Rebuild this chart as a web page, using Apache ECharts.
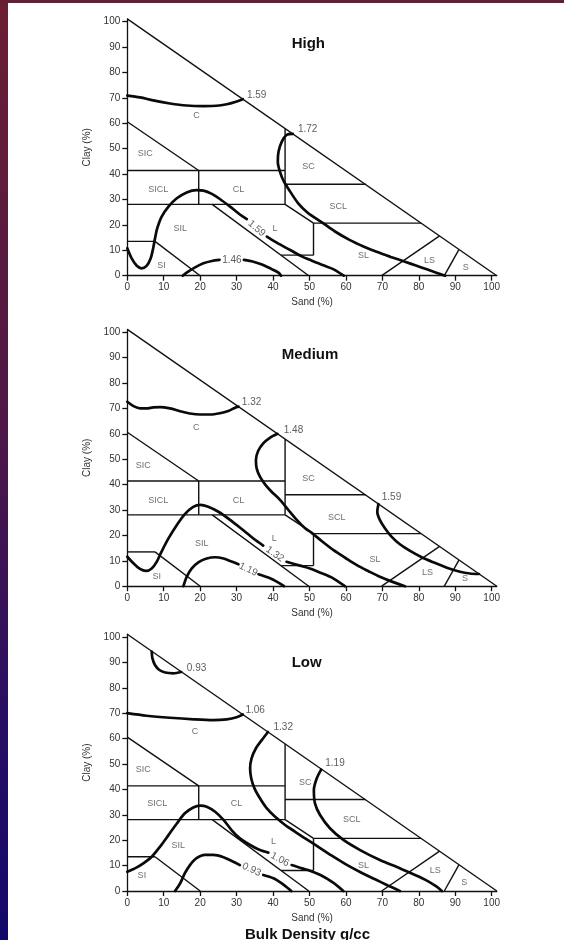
<!DOCTYPE html>
<html>
<head>
<meta charset="utf-8">
<script src="https://cdn.jsdelivr.net/npm/echarts@6/dist/echarts.min.js"></script>
<style>
html,body{margin:0;padding:0;background:#fff;}
#wrap{position:relative;width:564px;height:940px;overflow:hidden;background:#fff;}
#leftband{position:absolute;left:0;top:0;width:8px;height:940px;background:linear-gradient(to bottom,#6b1f33 0%,#4e1747 45%,#2a0f62 75%,#13086a 100%);}
#topband{position:absolute;left:0;top:0;width:564px;height:3px;background:#661d35;}
#chart{position:absolute;left:0;top:0;width:564px;height:940px;}
</style>
</head>
<body>
<div id="wrap"><div id="leftband"></div><div id="topband"></div><div id="chart"></div></div>
<script>
// ---------- axes ----------
const sandTicks = [0,10,20,30,40,50,60,70,80,90,100];
const clayTicks = [0,10,20,30,40,50,60,70,80,90,100];
const sandMax = 101.4;   // hypotenuse meets sand axis
const clayMax = 101.1;   // hypotenuse meets clay axis

// ---------- texture-class boundaries [sand, clay] ----------
const bndHyp    = [[0,101.1],[101.4,0]];
const bndSilt40 = [[0,60.6],[19.6,41.4]];
const bndClay40 = [[0,41.4],[43.3,41.4]];
const bndSand20 = [[19.6,41.4],[19.6,28.1]];
const bndClay27 = [[0,28.1],[43.3,28.1]];
const bndSand45 = [[43.3,28.1],[43.3,57.9]];
const bndClay35 = [[43.3,36],[65.4,36]];
const bndLSCL   = [[43.3,28.1],[51.1,20.7]];
const bndClay20 = [[51.1,20.7],[80.6,20.7]];
const bndSand52 = [[51.1,20.7],[51.1,8.1]];
const bndClay7  = [[42.2,8.1],[51.1,8.1]];
const bndSilt50 = [[23.3,28.1],[49.8,0]];
const bndClay12 = [[0,13.5],[7.6,13.5]];
const bndSilt80 = [[7.6,13.5],[20,0]];
const bndLSSL   = [[69.8,0],[85.7,15.7]];
const bndSLS    = [[87,0],[91,10.3]];

// ---------- High panel isolines ----------
const hi159top = [[0,70.9],[3.5,70.2],[7.1,69],[11.7,67.8],[16.3,67],[20.9,66.8],[24.5,66.9],[27.3,67.5],[29.6,68.4],[31.7,69.5]];
const hi172 = [[45.4,55.8],[43.7,55.4],[42.4,52.8],[41.5,48.8],[41.3,44.9],[41.9,40.9],[43,37],[44.7,33.1],[46.9,28.5],[49.5,24.8],[53.4,21],[57,17.4],[61.1,14],[64.8,11.5],[68.4,9.4],[72.3,7.4],[76.2,5.5],[79.2,4],[82.2,2.5],[84.8,1.2],[87.2,0]];
const hi159midA = [[0,10.8],[1.2,6.8],[2.6,3.9],[3.9,2.9],[5.3,3.9],[6.4,6.8],[7.1,10.8],[7.6,14.7],[8.2,18.6],[9.4,23.2],[11.3,27.2],[13.5,30.4],[16.3,32.8],[19,33.7],[20.9,33.5],[23.2,32.2],[25.4,30.2],[28.2,27.2],[30.9,24.1],[32.8,22.3]];
const hi159midB = [[38.3,15.4],[41,13],[44.7,10.1],[47.9,7.6],[50.5,6],[54,4],[56.5,2.6],[59.4,0]];
const hi146A = [[15.2,0],[16.7,1.6],[18.6,3.3],[20.9,4.9],[23.2,5.8],[25.3,6.2]];
const hi146B = [[32,6.2],[34.6,5.5],[37.3,4.2],[39.6,2.6],[41.5,1.2],[42.2,0]];
const hiIsoText = ['1.59','1.72','1.59','1.46'];
const hiIsoPos  = [[35.5,70.9],[49.5,57.6],[35.5,18.6],[28.7,6.2]];
const hiIsoRot  = [0,0,-40,0];
const hiClassPos = [[19,63],[4.9,48.2],[8.5,34.1],[30.5,34.1],[14.5,18.6],[9.4,3.9],[40.5,18.6],[49.7,42.9],[57.9,27.4],[64.8,7.9],[82.9,5.8],[92.9,3.3]];

// ---------- Medium panel isolines ----------
const me132top = [[0,72.6],[1.7,70.9],[3.5,70],[5.3,70],[7.1,70.4],[9,70.5],[11.7,70],[14.5,68.9],[17.2,68],[20,67.6],[22.7,67.6],[25.4,68.1],[27.7,69],[29.6,70.3],[30.5,70.7]];
const me148 = [[41.2,60],[39.2,58.5],[37.3,56.2],[35.9,53.2],[35.3,49.7],[35.5,46.4],[36.4,43.1],[37.8,40.1],[39.6,37.2],[41.9,34],[44.2,30],[46.5,26.1],[48.8,22.8],[50.6,21],[53.5,17.6],[56.5,14.3],[59.8,11.2],[63,8.3],[66.2,5.9],[69.3,3.7],[72.8,1.7],[76.2,0]];
const me159 = [[68.9,32.3],[68.6,29.3],[69.3,26.1],[70.7,22.8],[72.5,19.5],[74.8,16.5],[77.6,13.9],[80.8,11.4],[84,9.4],[87.7,7.3],[91.3,5.7],[94,5],[96.5,4.8]];
const me132midA = [[0,11.6],[1.7,9],[3.5,6.8],[5.1,6],[6.7,7],[8.1,9.7],[9.4,13.6],[11.3,18.8],[13.6,24.1],[15.8,28.4],[18.1,31.2],[20,32],[22.2,31.3],[25,29.3],[28.2,26.1],[31.4,22.5],[34.6,18.8],[37.3,16]];
const me132midB = [[43.7,9.6],[47.4,8.1],[50.1,7],[53,5.3],[56.5,3.1],[59.7,0]];
const me119A = [[15.4,0],[16.3,3.7],[17.7,7],[19.5,9.4],[21.8,10.9],[24.1,11.4],[26.4,10.9],[28.6,9.7],[30.5,8.6]];
const me119B = [[36,4.7],[38.7,3.4],[41,1.8],[43,0]];
const meIsoText = ['1.32','1.48','1.59','1.32','1.19'];
const meIsoPos  = [[34.1,72.3],[45.6,61.5],[72.5,35],[40.5,12.6],[33.2,6.6]];
const meIsoRot  = [0,0,0,-35,-26];
const meClassPos = [[18.9,62.4],[4.4,47.7],[8.5,33.7],[30.5,33.7],[20.4,16.9],[8.1,3.8],[40.3,18.8],[49.7,42.2],[57.5,27.1],[68,10.6],[82.4,5.4],[92.7,3.1]];

// ---------- Low panel isolines ----------
const lo093top = [[6.7,94.3],[6.9,91.6],[7.6,89],[8.8,87],[10.4,86],[12.6,85.7],[14.8,86.2]];
const lo106top = [[0,70],[5.3,69],[11.7,68.2],[18.2,67.6],[23.6,67.3],[27.3,67.6],[30,68.4],[31.7,69.5]];
const lo132 = [[38.6,62.6],[36.9,59.4],[35.3,56.2],[34.1,52.2],[33.7,48.3],[34,44.4],[34.9,40.4],[36.4,36.5],[38.3,32.5],[40.5,29.3],[43.3,26],[46,23.4],[48.8,20.7],[52,17.8],[56,14],[60,10.5],[64,7.4],[68,4.6],[71.5,2.2],[74.8,0]];
const lo119 = [[53.2,47.8],[52,44.4],[51.2,39.8],[51.5,34.5],[52.9,29.9],[55.6,24.7],[59.3,20.1],[63.9,16.1],[69.3,12.2],[74.9,8.9],[78.5,6.6],[82.2,4.1],[84.9,1.7],[86.3,0]];
const lo106midA = [[0,7.6],[2.1,8.9],[4.4,10.9],[6.7,13.5],[9,17.5],[11.3,22],[13.6,26.6],[15.8,30.6],[18.1,32.9],[20,33.6],[21.8,33.2],[24.1,31.2],[26.4,28],[28.6,24],[30.9,20.7],[33.7,18.1],[36.4,16.1],[38.7,15.1]];
const lo106midB = [[45.1,10.2],[47.9,8.9],[50.1,8],[53,6.3],[56.5,3.3],[59.3,0]];
const lo093A = [[13.1,0],[14.5,3],[15.8,7],[17.2,10.2],[19,12.9],[21.3,14.2],[23.6,14.2],[26.4,13.3],[29.1,11.5],[30.9,10.2]];
const lo093B = [[37.3,6.3],[40.1,5],[42.4,3],[44.2,1],[45,0]];
const loIsoText = ['0.93','1.06','1.32','1.19','1.06','0.93'];
const loIsoPos  = [[19,87.7],[35.1,71.3],[42.8,64.3],[57,50.3],[41.9,12.4],[34.1,8.4]];
const loIsoRot  = [0,0,0,0,-28,-25];
const loClassPos = [[18.6,62.7],[4.4,48],[8.2,34.3],[30,34.3],[14,18.1],[4,5.9],[40.1,19.4],[48.8,42.8],[61.6,28],[64.8,10.2],[84.5,8],[92.5,3.3]];

const classNames = ['C','SIC','SICL','CL','SIL','SI','L','SC','SCL','SL','LS','S'];
const panelTitles = ['High','Medium','Low'];
const footTitle = 'Bulk Density g/cc';

// ---------- build ----------
const FONT = '"Liberation Sans", Arial, Helvetica, sans-serif';
const boundaries = [bndHyp,bndSilt40,bndClay40,bndSand20,bndClay27,bndSand45,bndClay35,bndLSCL,bndClay20,bndSand52,bndClay7,bndSilt50,bndClay12,bndSilt80,bndLSSL,bndSLS];
const isoSets = [
  [hi159top,hi172,hi159midA,hi159midB,hi146A,hi146B],
  [me132top,me148,me159,me132midA,me132midB,me119A,me119B],
  [lo093top,lo106top,lo132,lo119,lo106midA,lo106midB,lo093A,lo093B]
];
const isoTexts = [hiIsoText, meIsoText, loIsoText];
const isoPos = [hiIsoPos, meIsoPos, loIsoPos];
const isoRot = [hiIsoRot, meIsoRot, loIsoRot];
const classPos = [hiClassPos, meClassPos, loClassPos];

const gridBottoms = [275.7, 586.2, 891];
const PX_X = 3.644, PX_Y = 2.54;
const gridW = sandMax * PX_X, gridH = clayMax * PX_Y;

const grids = [], xAxes = [], yAxes = [], series = [];
const axisCol = '#111';
for (let g = 0; g < 3; g++) {
  grids.push({left:127.3, top:gridBottoms[g]-gridH, width:gridW, height:gridH});
  xAxes.push({
    gridIndex:g, type:'value', min:0, max:sandMax,
    axisLine:{show:true, onZero:false, lineStyle:{color:axisCol, width:1.3}},
    axisTick:{show:true, length:5, inside:false, customValues:sandTicks, lineStyle:{color:axisCol, width:1.3}},
    axisLabel:{show:true, customValues:sandTicks, fontSize:10, color:'#333', margin:7, fontFamily:FONT},
    splitLine:{show:false},
    name:'Sand (%)', nameLocation:'middle', nameGap:22,
    nameTextStyle:{fontSize:10, color:'#333', fontFamily:FONT}
  });
  yAxes.push({
    gridIndex:g, type:'value', min:0, max:clayMax,
    axisLine:{show:true, onZero:false, lineStyle:{color:axisCol, width:1.3}},
    axisTick:{show:true, length:5, inside:false, customValues:clayTicks, lineStyle:{color:axisCol, width:1.3}},
    axisLabel:{show:true, customValues:clayTicks, fontSize:10, color:'#333', margin:7, fontFamily:FONT},
    splitLine:{show:false},
    name:'Clay (%)', nameLocation:'middle', nameGap:30,
    nameTextStyle:{fontSize:10, color:'#333', fontFamily:FONT}
  });
  boundaries.forEach(b => series.push({
    type:'line', xAxisIndex:g, yAxisIndex:g, data:b, symbol:'none', silent:true,
    clip:false, lineStyle:{color:'#111', width:1.4}, z:2
  }));
  isoSets[g].forEach(c => series.push({
    type:'line', xAxisIndex:g, yAxisIndex:g, data:c, symbol:'none', silent:true,
    clip:false, smooth:0.3, lineStyle:{color:'#0a0a0a', width:2.7, cap:'round'}, z:3
  }));
  series.push({
    type:'scatter', xAxisIndex:g, yAxisIndex:g, symbolSize:1, silent:true,
    itemStyle:{color:'rgba(0,0,0,0)'},
    data: classNames.map((n,k) => ({name:n, value:classPos[g][k]})),
    label:{show:true, position:'inside', formatter:'{b}', fontSize:9, color:'#4a4a4a', fontFamily:FONT},
    z:4
  });
  series.push({
    type:'scatter', xAxisIndex:g, yAxisIndex:g, symbolSize:1, silent:true,
    itemStyle:{color:'rgba(0,0,0,0)'},
    data: isoTexts[g].map((t,k) => ({name:t, value:isoPos[g][k], label:{rotate:isoRot[g][k]}})),
    label:{show:true, position:'inside', formatter:'{b}', fontSize:10, color:'#333', fontFamily:FONT},
    z:4
  });
}
const titleY = [42.3, 352.7, 660.7];
const titleX = [308.3, 310, 306.7];
const titles = panelTitles.map((t,i) => ({
  text:t, left:titleX[i], top:titleY[i]-5.5, textAlign:'center', padding:0,
  textStyle:{fontSize:15, fontWeight:'bold', color:'#111', fontFamily:FONT}
}));
titles.push({text:footTitle, left:307.5, top:927, textAlign:'center', padding:0,
  textStyle:{fontSize:15, fontWeight:'bold', color:'#111', fontFamily:FONT}});

const chart = echarts.init(document.getElementById('chart'), null, {renderer:'canvas'});
chart.setOption({
  animation:false,
  title: titles,
  grid: grids, xAxis: xAxes, yAxis: yAxes, series: series
});
</script>
</body>
</html>
